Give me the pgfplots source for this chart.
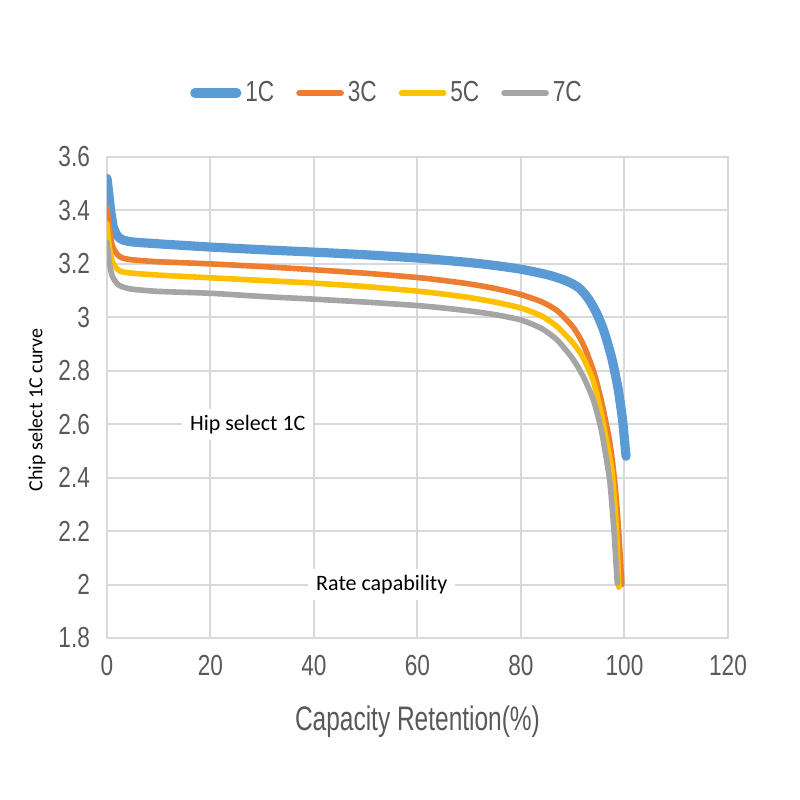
\documentclass[border=0pt]{standalone}
\usepackage{fontspec}
\setmainfont{Liberation Sans}
\newfontfamily\narrowfont{Liberation Sans}[FakeStretch=0.78]
\newfontfamily\narrowerfont{Liberation Sans}[FakeStretch=0.72]
\newfontfamily\calfont{Carlito}
\usepackage{pgfplots}
\pgfplotsset{compat=1.18}
\definecolor{cA}{HTML}{5B9BD5}
\definecolor{cB}{HTML}{ED7D31}
\definecolor{cC}{HTML}{FFC000}
\definecolor{cD}{HTML}{A5A5A5}
\definecolor{tickgray}{HTML}{595959}
\definecolor{gridgray}{HTML}{D9D9D9}
\begin{document}
\begin{tikzpicture}
\path[use as bounding box] (0,0) rectangle (400pt,400pt);
\begin{axis}[
  at={(53.5pt,81pt)}, anchor=south west,
  scale only axis, width=310.5pt, height=240.5pt,
  xmin=0, xmax=120, ymin=1.8, ymax=3.6,
  xtick={0,20,40,60,80,100,120},
  ytick={1.8,2,2.2,2.4,2.6,2.8,3,3.2,3.4,3.6},
  yticklabels={1.8,2,2.2,2.4,2.6,2.8,3,3.2,3.4,3.6},
  major tick length=0pt,
  grid=major,
  major grid style={draw=gridgray, line width=1pt},
  axis line style={draw=gridgray, line width=1pt},
  /pgf/number format/assume math mode=true,
  tick label style={font=\narrowfont\fontsize{14.5}{14.5}\selectfont, text=tickgray},
  yticklabel style={xshift=-5pt},
  xticklabel style={yshift=-5pt},
  xlabel={Capacity Retention(\%)},
  xlabel style={font=\narrowerfont\fontsize{17}{17}\selectfont, text=tickgray, at={(axis description cs:0.5,-0.1746)}, anchor=center},
  ylabel={Chip select 1C curve},
  ylabel style={font=\calfont\fontsize{10}{10}\selectfont, text=black, at={(axis description cs:-0.1127,0.474)}, anchor=center},
  legend style={at={(0.4525,1.133)}, anchor=center, draw=none, fill=none,
    legend columns=4, font=\narrowfont\fontsize{14.5}{14.5}\selectfont, text=tickgray,
    /tikz/every even column/.append style={column sep=9pt}},
  legend image code/.code={\draw[#1, line cap=round] (0pt,0pt) -- (21pt,0pt);},
  every axis plot/.append style={smooth, tension=0.4, line cap=round, line join=round, no markers},
]
\addplot[cA, line width=4.6pt] coordinates {
(0,3.52) (0.3,3.47) (0.7,3.40) (1.2,3.34) (2,3.305) (3,3.29) (5,3.282) (10,3.275)
(20,3.263) (30,3.253) (40,3.244) (50,3.234) (60,3.222) (65,3.214) (70,3.205) (75,3.194) (80,3.18)
(85,3.16) (88,3.142) (90,3.125) (91.5,3.105) (93,3.07) (94.5,3.02) (96,2.95)
(97.5,2.85) (98.7,2.74) (99.6,2.62) (100.1,2.52) (100.3,2.48)};
\addlegendentry{1C}
\addplot[cB, line width=2.8pt] coordinates {
(0,3.41) (0.4,3.34) (1,3.27) (2,3.235) (3,3.222) (5,3.215) (10,3.208) (20,3.20)
(30,3.19) (40,3.178) (50,3.165) (60,3.149) (65,3.138) (70,3.125) (75,3.108) (80,3.085) (84,3.058)
(87,3.025) (90,2.965) (92,2.90) (94,2.80) (95.5,2.69) (97,2.55) (97.8,2.44)
(98.5,2.30) (99,2.16) (99.5,2.0)};
\addlegendentry{3C}
\addplot[cC, line width=2.8pt] coordinates {
(0,3.35) (0.4,3.27) (1,3.21) (2,3.18) (3,3.17) (5,3.165) (10,3.158) (20,3.148)
(30,3.138) (40,3.128) (50,3.115) (60,3.098) (65,3.087) (70,3.074) (75,3.057) (80,3.035) (84,3.005)
(87,2.965) (90,2.905) (92,2.85) (94,2.76) (95.5,2.64) (96.7,2.52) (97.6,2.42)
(98.2,2.28) (98.6,2.14) (98.9,1.99)};
\addlegendentry{5C}
\addplot[cD, line width=2.8pt] coordinates {
(0,3.28) (0.4,3.21) (1,3.155) (2,3.125) (3,3.114) (5,3.105) (10,3.097) (20,3.09)
(30,3.078) (40,3.068) (50,3.057) (60,3.044) (65,3.035) (70,3.024) (75,3.010) (80,2.99) (84,2.958)
(87,2.915) (90,2.845) (92,2.78) (94,2.69) (95.5,2.58) (96.5,2.47) (97.2,2.38)
(97.9,2.22) (98.3,2.10) (98.6,2.005)};
\addlegendentry{7C}
\node[fill=white, inner xsep=4pt, inner ysep=3pt, font=\calfont\fontsize{11}{11}\selectfont] at (axis cs:27.2,2.60) {Hip select 1C};
\node[fill=white, inner xsep=4pt, inner ysep=3pt, font=\calfont\fontsize{11}{11}\selectfont] at (axis cs:53.1,2.0) {Rate capability};
\end{axis}
\end{tikzpicture}
\end{document}
